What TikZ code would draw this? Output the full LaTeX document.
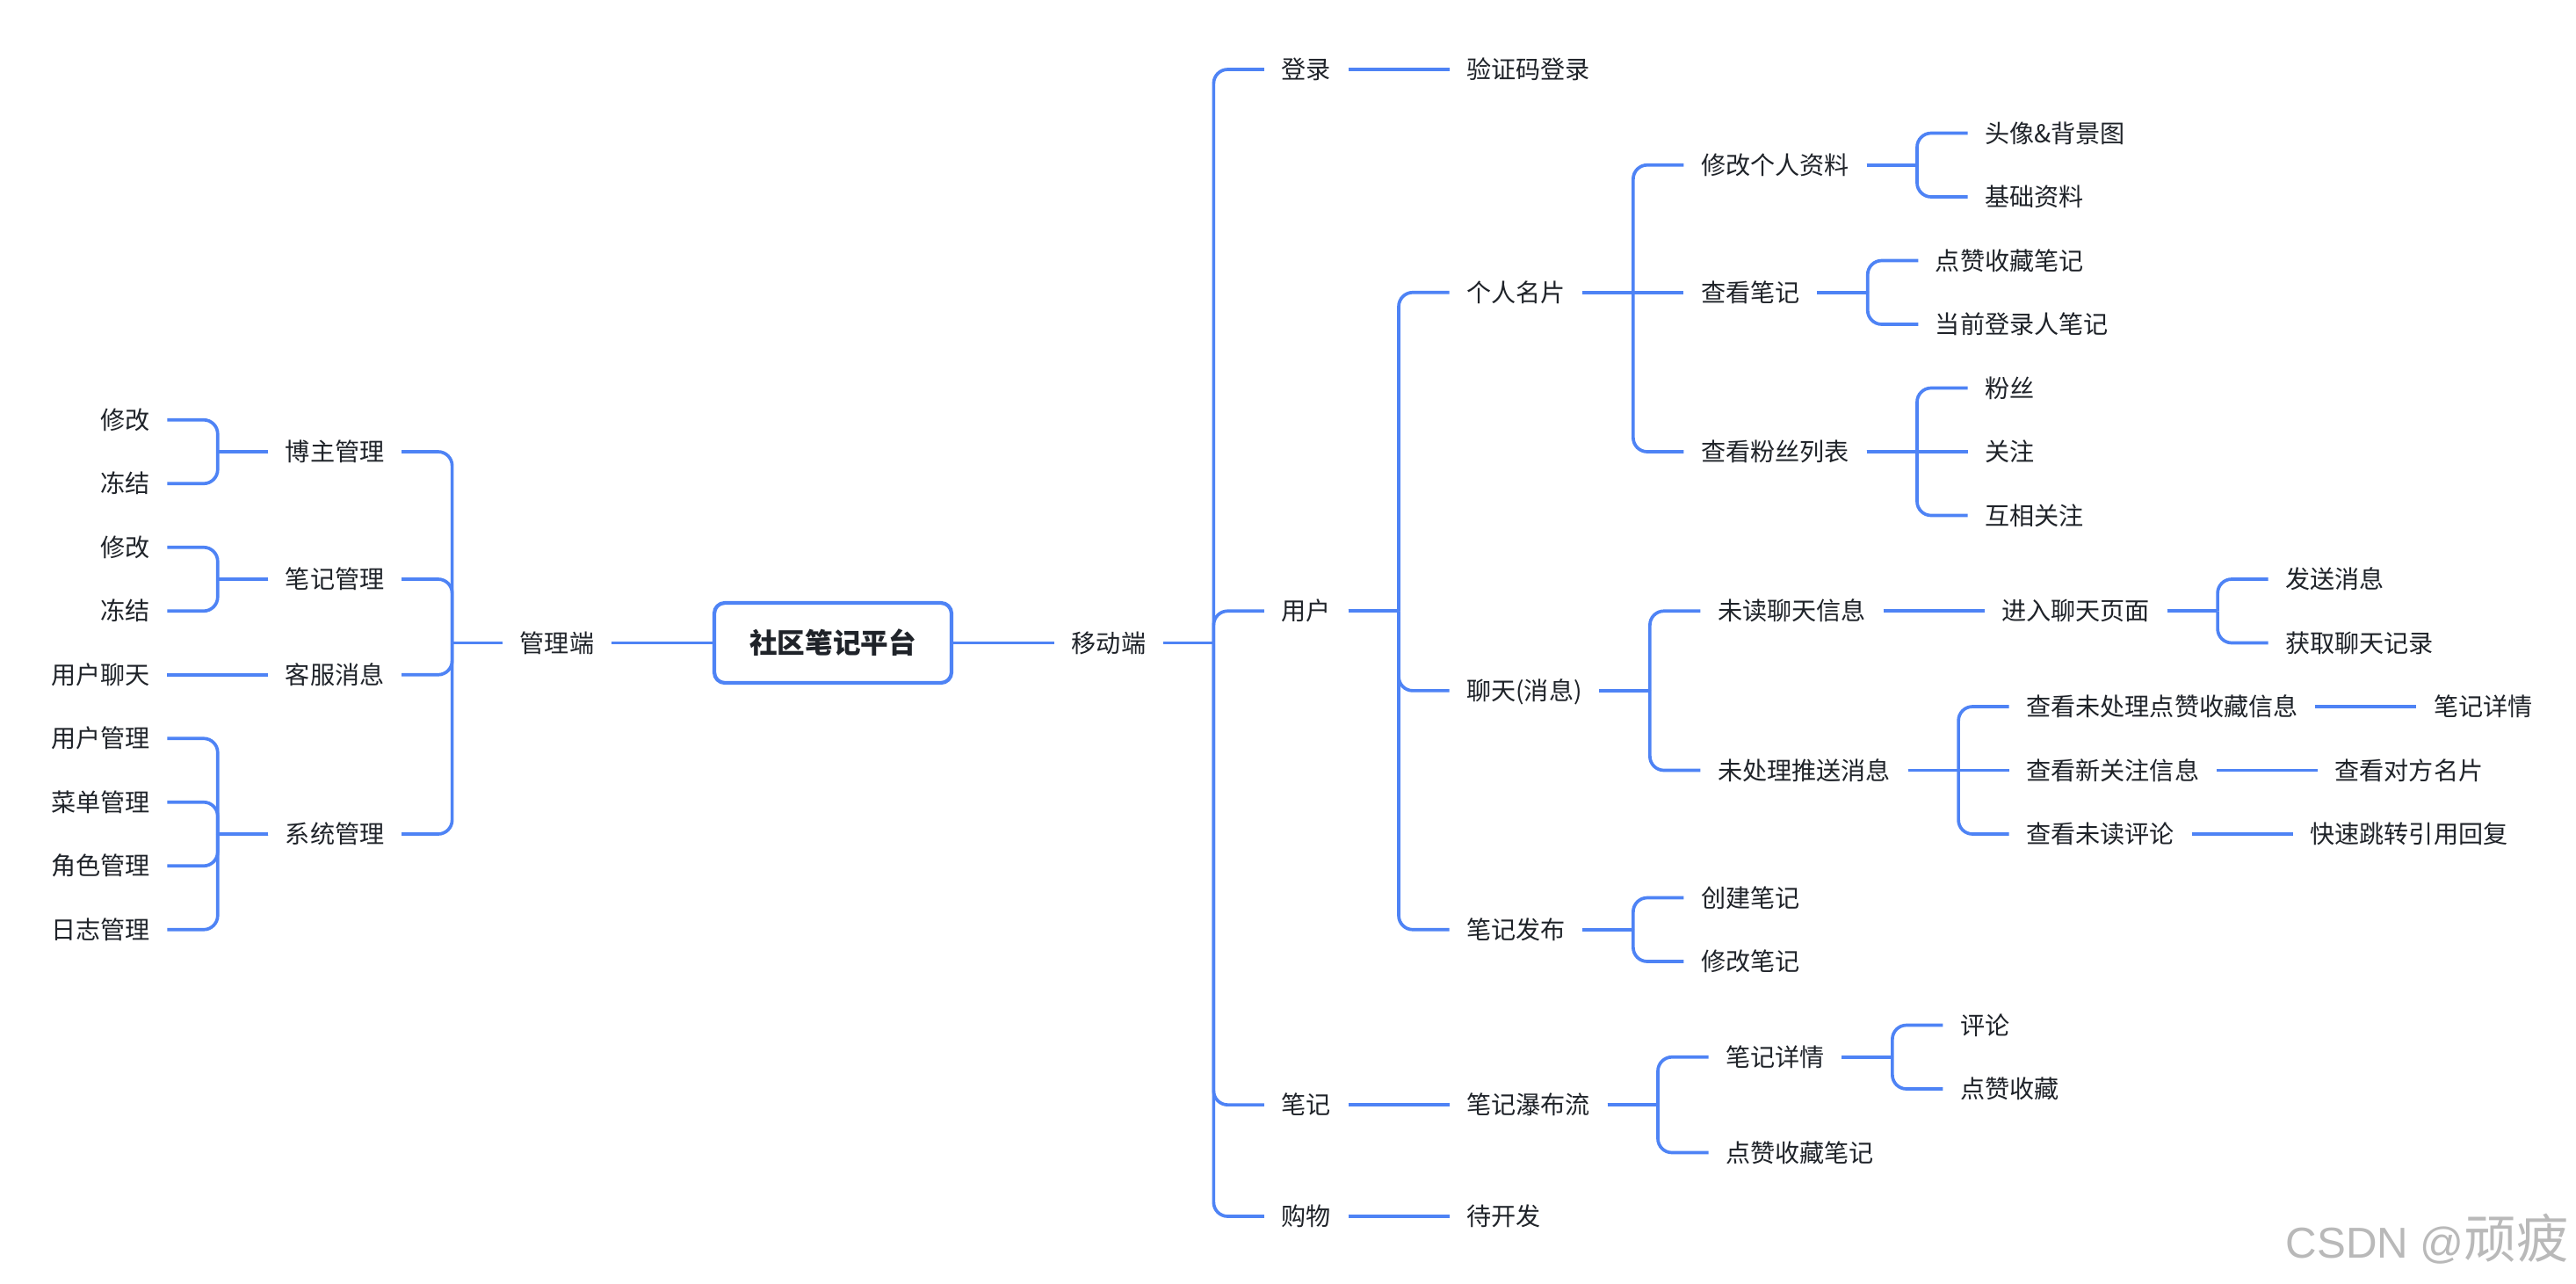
\documentclass[tikz,border=0pt]{standalone}
\usepackage{fontspec}
\setmainfont{Noto Sans CJK SC}
\newfontfamily\wmfont{Liberation Sans}
\usetikzlibrary{positioning}
\definecolor{branch}{HTML}{4E83F5}
\definecolor{ink}{HTML}{1F2329}
\newcommand{\row}{7.25mm}
% branch from parent to child, sharp at the fork, round at the child
\newcommand{\rfork}[2]{\draw[link] (#1.east) -- ++(5.75mm,0) coordinate (j);
  \draw[link,rounded corners=1.6mm] (j) |- (#2.west);}
\newcommand{\lfork}[2]{\draw[link] (#1.west) -- ++(-5.75mm,0) coordinate (j);
  \draw[link,rounded corners=1.6mm] (j) |- (#2.east);}

\begin{document}
\begin{tikzpicture}[node distance=11.5mm,
  item/.style={font=\fontsize{8pt}{10pt}\selectfont,text=ink,inner xsep=1.9mm,inner ysep=0pt,text height=6.64pt,text depth=0.56pt},
  root/.style={draw=branch,line width=1.2pt,rounded corners=1.2mm,fill=white,font=\fontsize{9pt}{11pt}\selectfont\bfseries,text=ink,minimum width=2.7cm,minimum height=0.91cm},
  link/.style={draw=branch,line width=1.05pt}]
\path[use as bounding box,fill=white] (0,0) rectangle (29.32,-14.6);
\node[root] (root) at (9.48,-7.315) {社区笔记平台};

% mobile side
\node[item] (mobile) [right=of root] {移动端};
\node[item] (login) [right=of mobile,yshift=9*\row] {登录};
\node[item] (user) [right=of mobile,yshift=0.5*\row] {用户};
\node[item] (note) [right=of mobile,yshift=-7.25*\row] {笔记};
\node[item] (shop) [right=of mobile,yshift=-9*\row] {购物};
\node[item] (code) [right=of login] {验证码登录};
\node[item] (card) [right=of user,yshift=5*\row] {个人名片};
\node[item] (chat) [right=of user,yshift=-1.25*\row] {聊天(消息)};
\node[item] (publish) [right=of user,yshift=-5*\row] {笔记发布};
\node[item] (profile) [right=of card,yshift=2*\row] {修改个人资料};
\node[item] (mynotes) [right=of card] {查看笔记};
\node[item] (fanlist) [right=of card,yshift=-2.5*\row] {查看粉丝列表};
\node[item] (avatar) [right=of profile,yshift=0.5*\row] {头像\&背景图};
\node[item] (basic) [right=of profile,yshift=-0.5*\row] {基础资料};
\node[item] (liked) [right=of mynotes,yshift=0.5*\row] {点赞收藏笔记};
\node[item] (own) [right=of mynotes,yshift=-0.5*\row] {当前登录人笔记};
\node[item] (fans) [right=of fanlist,yshift=\row] {粉丝};
\node[item] (follow) [right=of fanlist] {关注};
\node[item] (mutual) [right=of fanlist,yshift=-\row] {互相关注};
\node[item] (unread) [right=of chat,yshift=1.25*\row] {未读聊天信息};
\node[item] (push) [right=of chat,yshift=-1.25*\row] {未处理推送消息};
\node[item] (enter) [right=of unread] {进入聊天页面};
\node[item] (send) [right=of enter,yshift=0.5*\row] {发送消息};
\node[item] (history) [right=of enter,yshift=-0.5*\row] {获取聊天记录};
\node[item] (pending) [right=of push,yshift=\row] {查看未处理点赞收藏信息};
\node[item] (newfan) [right=of push] {查看新关注信息};
\node[item] (review) [right=of push,yshift=-\row] {查看未读评论};
\node[item] (detail) [right=of pending] {笔记详情};
\node[item] (peer) [right=of newfan] {查看对方名片};
\node[item] (jump) [right=of review] {快速跳转引用回复};
\node[item] (create) [right=of publish,yshift=0.5*\row] {创建笔记};
\node[item] (modify) [right=of publish,yshift=-0.5*\row] {修改笔记};
\node[item] (flow) [right=of note] {笔记瀑布流};
\node[item] (notepage) [right=of flow,yshift=0.75*\row] {笔记详情};
\node[item] (likednote) [right=of flow,yshift=-0.75*\row] {点赞收藏笔记};
\node[item] (comment) [right=of notepage,yshift=0.5*\row] {评论};
\node[item] (likes) [right=of notepage,yshift=-0.5*\row] {点赞收藏};
\node[item] (todo) [right=of shop] {待开发};

% admin side
\node[item] (admin) [left=of root] {管理端};
\node[item] (blogger) [left=of admin,yshift=3*\row] {博主管理};
\node[item] (notemgr) [left=of admin,yshift=\row] {笔记管理};
\node[item] (service) [left=of admin,yshift=-0.5*\row] {客服消息};
\node[item] (system) [left=of admin,yshift=-3*\row] {系统管理};
\node[item] (edit1) [left=of blogger,yshift=0.5*\row] {修改};
\node[item] (freeze1) [left=of blogger,yshift=-0.5*\row] {冻结};
\node[item] (edit2) [left=of notemgr,yshift=0.5*\row] {修改};
\node[item] (freeze2) [left=of notemgr,yshift=-0.5*\row] {冻结};
\node[item] (userchat) [left=of service] {用户聊天};
\node[item] (usermgr) [left=of system,yshift=1.5*\row] {用户管理};
\node[item] (menu) [left=of system,yshift=0.5*\row] {菜单管理};
\node[item] (role) [left=of system,yshift=-0.5*\row] {角色管理};
\node[item] (log) [left=of system,yshift=-1.5*\row] {日志管理};

% links on one row
\foreach \p/\c in {root/mobile,login/code,card/mynotes,fanlist/follow,unread/enter,
  push/newfan,pending/detail,newfan/peer,review/jump,note/flow,shop/todo}
  \draw[link] (\p.east) -- (\c.west);
\foreach \p/\c in {root/admin,service/userchat}
  \draw[link] (\p.west) -- (\c.east);
% forks
\foreach \p/\c in {mobile/login,mobile/user,mobile/note,mobile/shop,
  user/card,user/chat,user/publish,card/profile,card/fanlist,
  profile/avatar,profile/basic,mynotes/liked,mynotes/own,fanlist/fans,
  fanlist/mutual,chat/unread,chat/push,enter/send,enter/history,
  push/pending,push/review,publish/create,publish/modify,flow/notepage,flow/likednote,
  notepage/comment,notepage/likes}
  {\rfork{\p}{\c}}
\foreach \p/\c in {admin/blogger,admin/notemgr,admin/service,admin/system,
  blogger/edit1,blogger/freeze1,notemgr/edit2,notemgr/freeze2,
  system/usermgr,system/menu,system/role,system/log}
  {\lfork{\p}{\c}}

\node[anchor=east,text=gray!55,inner sep=0pt] (mark) at (29.25,-14.1)
  {{\wmfont\fontsize{14pt}{16pt}\selectfont CSDN @}{\fontsize{17pt}{19pt}\selectfont 顽疲}};
\end{tikzpicture}
\end{document}
